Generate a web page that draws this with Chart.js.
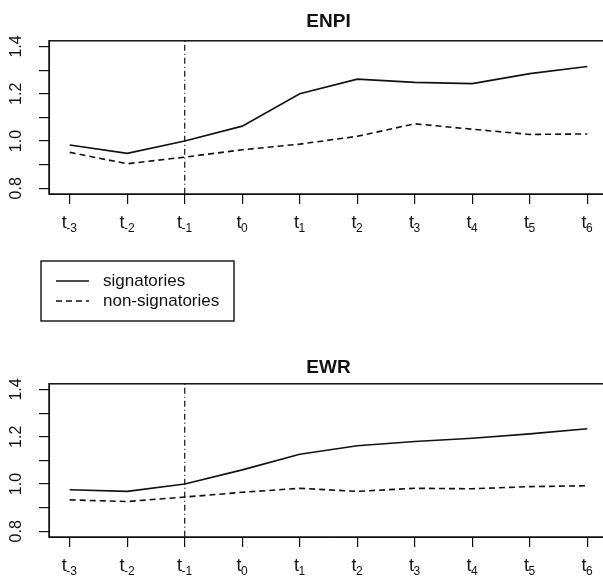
<!DOCTYPE html>
<html>
<head>
<meta charset="utf-8">
<script src="https://cdn.jsdelivr.net/npm/chart.js@4"></script>
<style>
  html, body { margin: 0; padding: 0; background: #fff; overflow: hidden; }
  #wrap { position: relative; width: 603px; height: 578px; overflow: hidden; }
  canvas { position: absolute; left: 0; }
  #enpi { top: 0; }
  #ewr { top: 330px; }
</style>
</head>
<body>
<div id="wrap">
  <canvas id="enpi" width="620" height="330"></canvas>
  <canvas id="ewr" width="620" height="248"></canvas>
</div>
<script>
// periods t-3 .. t6 (subscript part of each tick label)
const periods = ['-3', '-2', '-1', '0', '1', '2', '3', '4', '5', '6'];
const breakPeriod = '-1'; // vertical dot-dash line

const yTicks = [0.8, 0.9, 1.0, 1.1, 1.2, 1.3, 1.4];
const yLabels = ['0.8', '', '1.0', '', '1.2', '', '1.4'];

// ENPI panel
const enpiSignatories = [0.983, 0.948, 1.0, 1.063, 1.2, 1.262, 1.248, 1.243, 1.285, 1.315];
const enpiNonSignatories = [0.952, 0.904, 0.932, 0.963, 0.987, 1.02, 1.073, 1.05, 1.028, 1.03];

// EWR panel
const ewrSignatories = [0.976, 0.969, 1.0, 1.06, 1.126, 1.162, 1.18, 1.194, 1.212, 1.234];
const ewrNonSignatories = [0.933, 0.926, 0.945, 0.965, 0.982, 0.969, 0.982, 0.98, 0.989, 0.993];

const seriesNames = ['signatories', 'non-signatories'];

const FONT = '"Liberation Sans", Arial, Helvetica, sans-serif';
const INK = '#111';

function toPoints(values) {
    return values.map((v, i) => ({ x: i + 1, y: v }));
}

// box, reference line and R-style tick labels
const rDecor = {
    id: 'rDecor',
    afterDraw(chart) {
        const ctx = chart.ctx;
        const a = chart.chartArea;
        const xs = chart.scales.x;
        const ys = chart.scales.y;
        ctx.save();

        // dot-dash line at t-1
        const bx = xs.getPixelForValue(periods.indexOf(breakPeriod) + 1);
        ctx.strokeStyle = INK;
        ctx.lineWidth = 1.2;
        ctx.setLineDash([1, 3, 6, 3]);
        ctx.beginPath();
        ctx.moveTo(bx, a.top);
        ctx.lineTo(bx, a.bottom);
        ctx.stroke();
        ctx.setLineDash([]);

        // box
        ctx.lineWidth = 1.5;
        ctx.strokeRect(a.left, a.top, a.right - a.left, a.bottom - a.top);

        // x labels: t with subscript
        ctx.fillStyle = INK;
        ctx.textBaseline = 'alphabetic';
        ctx.textAlign = 'left';
        const base = a.bottom + 34;
        periods.forEach((p, i) => {
            const x = xs.getPixelForValue(i + 1);
            ctx.font = '18px ' + FONT;
            const wt = ctx.measureText('t').width;
            ctx.font = '12px ' + FONT;
            const ws = ctx.measureText(p).width;
            const x0 = x - (wt + ws) / 2;
            ctx.font = '18px ' + FONT;
            ctx.fillText('t', x0, base);
            ctx.font = '12px ' + FONT;
            ctx.fillText(p, x0 + wt - 0.5, base + 4);
        });

        // y labels, rotated as in R
        ctx.font = '16px ' + FONT;
        ctx.textAlign = 'center';
        ctx.textBaseline = 'middle';
        yTicks.forEach((v, i) => {
            if (!yLabels[i]) return;
            ctx.save();
            ctx.translate(17, ys.getPixelForValue(v));
            ctx.rotate(-Math.PI / 2);
            ctx.fillText(yLabels[i], 0, 0);
            ctx.restore();
        });
        ctx.restore();
    }
};

// legend box between the two panels
const rLegend = {
    id: 'rLegend',
    afterDraw(chart) {
        const ctx = chart.ctx;
        ctx.save();
        ctx.strokeStyle = INK;
        ctx.lineWidth = 1.4;
        ctx.strokeRect(41, 261, 193, 60);
        chart.data.datasets.forEach((ds, i) => {
            const y = 281 + i * 20;
            ctx.setLineDash(ds.borderDash || []);
            ctx.lineWidth = ds.borderWidth;
            ctx.beginPath();
            ctx.moveTo(56, y);
            ctx.lineTo(89, y);
            ctx.stroke();
            ctx.setLineDash([]);
            ctx.fillStyle = INK;
            ctx.font = '17px ' + FONT;
            ctx.textAlign = 'left';
            ctx.textBaseline = 'middle';
            ctx.fillText(ds.label, 103, y);
        });
        ctx.restore();
    }
};

function criarPainel(id, titulo, sig, nonSig, opts) {
    const plugins = [rDecor];
    if (opts.legend) plugins.push(rLegend);
    return new Chart(document.getElementById(id), {
        type: 'line',
        data: {
            datasets: [
                {
                    label: seriesNames[0],
                    data: toPoints(sig),
                    borderColor: INK,
                    borderWidth: 1.6,
                    pointRadius: 0,
                    tension: 0
                },
                {
                    label: seriesNames[1],
                    data: toPoints(nonSig),
                    borderColor: INK,
                    borderWidth: 1.6,
                    borderDash: [6, 4],
                    pointRadius: 0,
                    tension: 0
                }
            ]
        },
        options: {
            responsive: false,
            animation: false,
            layout: { padding: { left: 0, right: 12, top: 0, bottom: opts.padBottom } },
            scales: {
                x: {
                    type: 'linear',
                    min: 1 - 0.36,
                    max: periods.length + 0.36,
                    afterBuildTicks: (s) => { s.ticks = periods.map((_, i) => ({ value: i + 1 })); },
                    afterFit: (s) => { s.height = 40; },
                    ticks: { display: false },
                    grid: { drawOnChartArea: false, drawTicks: true, tickLength: 10, color: INK, lineWidth: 1.2 },
                    border: { color: INK, width: 1 }
                },
                y: {
                    min: 0.8 - 0.024,
                    max: 1.4 + 0.024,
                    afterBuildTicks: (s) => { s.ticks = yTicks.map(v => ({ value: v })); },
                    afterFit: (s) => { s.width = 49; },
                    ticks: { display: false },
                    grid: { drawOnChartArea: false, drawTicks: true, tickLength: 10, color: INK, lineWidth: 1.2 },
                    border: { color: INK, width: 1 }
                }
            },
            plugins: {
                legend: { display: false },
                tooltip: { enabled: false },
                title: {
                    display: true,
                    text: titulo,
                    fullSize: false,
                    color: INK,
                    font: { family: FONT, size: 19, weight: 'bold', lineHeight: 1.2 },
                    padding: opts.titlePad
                }
            }
        },
        plugins: plugins
    });
}

criarPainel('enpi', 'ENPI', enpiSignatories, enpiNonSignatories,
    { legend: true, padBottom: 96, titlePad: { top: 10, bottom: 8 } });
criarPainel('ewr', 'EWR', ewrSignatories, ewrNonSignatories,
    { legend: false, padBottom: 1, titlePad: { top: 26, bottom: 5 } });
</script>
</body>
</html>
